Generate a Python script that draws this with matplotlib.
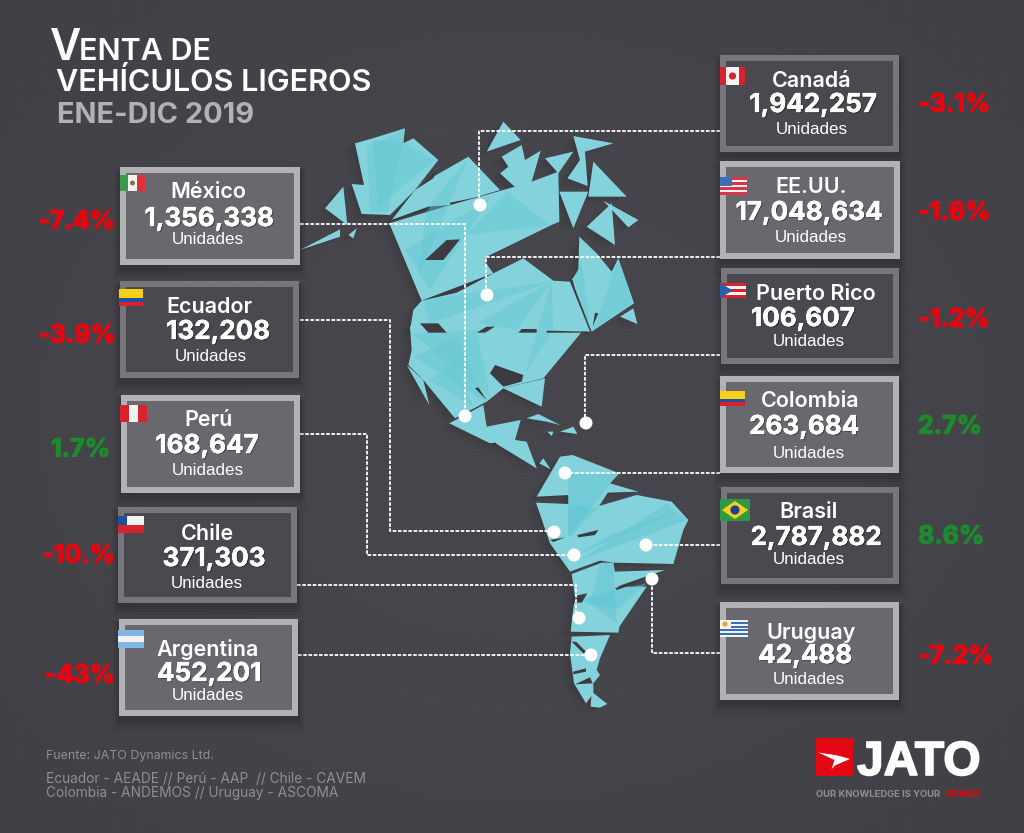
import numpy as np
import matplotlib
matplotlib.use("Agg")
import matplotlib.pyplot as plt
from matplotlib.patches import Polygon, Rectangle, Circle
import matplotlib.patheffects as pe

# donnees
paises = ["México", "Ecuador", "Perú", "Chile", "Argentina",
          "Canadá", "EE.UU.", "Puerto Rico", "Colombia", "Brasil", "Uruguay"]
unidades = ["1,356,338", "132,208", "168,647", "371,303", "452,201",
            "1,942,257", "17,048,634", "106,607", "263,684", "2,787,882", "42,488"]
cambio = ["-7.4%", "-3.9%", "1.7%", "-10.%", "-43%",
          "-3.1%", "-1.6%", "-1.2%", "2.7%", "8.6%", "-7.2%"]
positivo = [False, False, True, False, False, False, False, False, True, True, False]

# mise en page : x0, y0, x1, y1, cadre clair ?
cajas = [(120, 167, 300, 265, True), (120, 281, 299, 378, False), (121, 395, 300, 493, True),
         (118, 507, 297, 603, False), (119, 619, 298, 716, True), (720, 55, 899, 152, False),
         (720, 161, 900, 259, True), (721, 268, 899, 364, False), (720, 376, 899, 473, True),
         (721, 487, 899, 584, False), (720, 602, 899, 700, True)]
pos_nombre = [(208, 192), (209, 307), (209, 420), (207, 534), (208, 649),
              (812, 81), (811, 187), (816, 294), (810, 401), (809, 512), (811, 633)]
pos_valor = [(209, 219), (218, 332), (207, 446), (214, 559), (209, 674),
             (813, 105), (809, 213), (803, 319), (804, 427), (816, 538), (805, 656)]
pos_unid = [(208, 239), (211, 356), (208, 470), (207, 583), (208, 696),
            (812, 129), (811, 237), (809, 341), (809, 453), (809, 560), (809, 679)]
pos_pct = [(115, 222), (116, 336), (110, 450), (115, 556), (115, 676),
           (918, 105), (918, 213), (918, 320), (918, 427), (918, 537), (918, 657)]

conectores = [
    [(300, 224), (465, 224), (465, 416)],
    [(300, 320), (390, 320), (390, 531), (554, 531)],
    [(300, 434), (367, 434), (367, 555), (574, 555)],
    [(297, 585), (576, 585), (576, 618)],
    [(298, 655), (591, 655)],
    [(720, 131), (479, 131), (479, 205)],
    [(720, 257), (486, 257), (486, 295)],
    [(720, 355), (585, 355), (585, 423)],
    [(720, 473), (565, 473)],
    [(720, 545), (646, 545)],
    [(720, 653), (652, 653), (652, 579)],
]
puntos = [(465, 416), (554, 532), (574, 555), (579, 618), (591, 655),
          (480, 205), (487, 295), (586, 423), (565, 473), (646, 545), (652, 579)]

# triangles de la carte, coordonnees du zoom x3
norte = [
    [(195, 100), (248, 85), (345, 55), (340, 100), (370, 85), (445, 150), (375, 240), (300, 315), (215, 312), (185, 222), (222, 225)],
    [(105, 295), (160, 230), (172, 345)],
    [(30, 420), (150, 358), (150, 380)],
    [(175, 375), (200, 355), (190, 385)],
    [(375, 240), (445, 170), (430, 200), (535, 140), (630, 240), (480, 285), (415, 290), (305, 330)],
    [(298, 340), (480, 285), (640, 240), (725, 215), (805, 185), (808, 335), (785, 345), (590, 440), (585, 455), (610, 490), (395, 572)],
    [(395, 572), (610, 490), (700, 445), (790, 512), (840, 515), (900, 665), (360, 660), (370, 600)],
    [(868, 380), (920, 430), (965, 485), (985, 445), (1032, 580), (905, 665), (845, 510), (865, 480)],
    [(990, 620), (1030, 595), (1042, 642)],
    [(360, 650), (880, 660), (760, 805), (640, 835), (590, 875), (495, 925), (400, 810), (355, 765), (365, 720)],
    [(350, 765), (400, 810), (418, 885)],
    [(640, 835), (765, 805), (755, 890)],
    [(478, 940), (580, 885), (590, 950), (692, 930), (675, 990), (600, 1000)],
    [(590, 125), (640, 35), (692, 90)],
    [(635, 140), (695, 105), (705, 150), (752, 122), (725, 215), (690, 245), (630, 190), (655, 170)],
    [(765, 145), (850, 125), (805, 190)],
    [(850, 78), (970, 100), (885, 125), (893, 228), (832, 205), (870, 150)],
    [(910, 155), (1010, 260), (895, 260)],
    [(808, 245), (895, 245), (850, 355)],
    [(890, 350), (965, 280), (975, 405)],
    [(940, 272), (1045, 330), (1015, 352)],
    [(710, 925), (745, 912), (810, 945), (770, 935)],
    [(772, 965), (790, 965), (785, 978)],
    [(810, 965), (850, 950), (862, 972)],
]
norte_claro = [
    [(230, 110), (345, 60), (295, 305), (240, 305)],
    [(250, 90), (340, 95), (435, 150), (265, 290)],
    [(535, 145), (385, 500), (410, 295)],
    [(530, 375), (780, 345), (650, 245)],
    [(345, 420), (600, 265), (420, 540)],
    [(400, 568), (785, 515), (420, 640)],
    [(785, 515), (560, 640), (680, 660)],
    [(785, 515), (705, 790), (790, 660)],
    [(875, 450), (900, 655), (850, 510)],
    [(985, 450), (1028, 578), (910, 660)],
    [(365, 670), (560, 660), (600, 860)],
    [(370, 740), (500, 680), (585, 875)],
    [(420, 810), (490, 750), (550, 890)],
]
huecos_norte = [
    [(405, 450), (470, 390), (510, 388), (460, 450)],
    [(395, 572), (610, 490), (500, 548)],
    [(300, 332), (418, 290), (415, 300), (310, 333)],
    [(375, 240), (445, 170), (430, 205)],
    [(480, 285), (560, 262), (480, 278)],
    [(390, 640), (445, 640), (470, 668), (415, 668)],
    [(560, 668), (590, 650), (615, 650), (585, 668)],
    [(685, 668), (695, 657), (740, 657), (740, 668)],
    [(770, 662), (895, 665), (880, 668), (770, 668)],
    [(600, 790), (615, 765), (700, 795), (695, 815), (640, 830)],
    [(555, 835), (565, 832), (590, 870)],
    [(840, 510), (848, 510), (865, 575)],
    [(908, 650), (915, 608), (925, 610)],
]
sur = [
    [(110, 170), (180, 50), (218, 45), (358, 100), (330, 130), (415, 155), (320, 158), (205, 165)],
    [(205, 160), (325, 155), (295, 202), (205, 195)],
    [(108, 188), (205, 192), (290, 200), (410, 165), (515, 185), (565, 240), (550, 270), (520, 372), (340, 368), (300, 362), (210, 395), (150, 310)],
    [(215, 402), (305, 368), (340, 368), (345, 395), (495, 390), (350, 440), (440, 440), (358, 560), (355, 578), (212, 575), (218, 520), (225, 470)],
    [(215, 590), (330, 585), (300, 655), (290, 690), (300, 705), (280, 730), (280, 760), (258, 790), (222, 730), (210, 640)],
    [(275, 755), (322, 792), (300, 803), (272, 800)],
    [(-25, -10), (80, 5), (110, 85), (-10, 12)],
    [(118, 70), (130, 55), (152, 88)],
]
sur_claro = [
    [(205, 100), (355, 100), (205, 290)],
    [(205, 195), (295, 205), (205, 295)],
    [(340, 280), (540, 210), (220, 350)],
    [(240, 360), (560, 240), (500, 190)],
    [(300, 370), (340, 370), (350, 550), (270, 490)],
    [(225, 480), (440, 430), (350, 510)],
]
huecos_sur = [
    [(345, 445), (440, 410), (405, 432), (350, 450)],
    [(215, 470), (262, 460), (245, 488), (215, 488)],
    [(215, 605), (228, 605), (258, 635), (250, 640)],
    [(220, 695), (258, 685), (258, 695), (220, 703)],
    [(225, 733), (270, 712), (278, 730)],
    [(150, 300), (195, 292), (160, 306)],
    [(232, 285), (295, 270), (285, 285), (235, 292)],
]

flechita = [(0.06, 0.38), (0.58, 0.46), (0.92, 0.55), (0.52, 0.72), (0.42, 0.82), (0.5, 0.58)]

# banderas : x0, y0, x1, y1
banderas = [(120, 175, 145, 191), (119, 289, 143, 306), (120, 405, 147, 422), (118, 516, 144, 533),
            (118, 630, 144, 648), (720, 67, 745, 85), (720, 177, 747, 195), (720, 283, 746, 298),
            (720, 391, 745, 406), (720, 499, 750, 521), (720, 620, 748, 637)]

FONDO = "#45454b"
CIAN = "#84d3dc"
CIAN2 = "#62c5d1"
ROJO = "#e8050f"
VERDE = "#1e8a2e"

fig = plt.figure(figsize=(10.24, 8.33), dpi=100, facecolor=FONDO)
ax = fig.add_axes([0, 0, 1, 1])


def pts(px):
    return px * 0.72


# fond raye avec vignettage
yy, xx = np.mgrid[0:833, 0:1024]
vig = 1 - 0.10 * (((xx - 512) / 512.0) ** 2 + ((yy - 416) / 416.0) ** 2) / 2
rayas = 1 + 0.025 * ((yy % 3) == 0) - 0.015 * ((xx % 3) == 0)
fondo = np.stack([70 * vig * rayas, 70 * vig * rayas, 76 * vig * rayas], axis=2) / 255.0
ax.imshow(np.clip(fondo, 0, 1), extent=(0, 1024, 833, 0), aspect="auto", zorder=0)
ax.set_xlim(0, 1024)
ax.set_ylim(833, 0)
ax.axis("off")


def convertir(p, ox, oy):
    return [(ox + x / 3.0, oy + y / 3.0) for x, y in p]


def capa(polys, ox, oy, color, alpha=1.0, z=2, dx=0, dy=0):
    for p in polys:
        q = [(x + dx, y + dy) for x, y in convertir(p, ox, oy)]
        ax.add_patch(Polygon(q, closed=True, fc=color, ec="none", alpha=alpha, zorder=z))


# ombre de la carte
for d, a in [(10, 0.07), (6, 0.10), (3, 0.14)]:
    capa(norte, 290, 110, "#2b2b30", a, 1, -d, d * 0.6)
    capa(sur, 500, 440, "#2b2b30", a, 1, -d, d * 0.6)

capa(norte, 290, 110, CIAN, 1, 2)
capa(norte_claro, 290, 110, CIAN2, 0.42, 3)
capa(huecos_norte, 290, 110, "#3b3b41", 1, 4)
capa(sur, 500, 440, CIAN, 1, 2)
capa(sur_claro, 500, 440, CIAN2, 0.5, 3)
capa(huecos_sur, 500, 440, "#3b3b41", 1, 4)

# connecteurs
for c in conectores:
    xs, ys = zip(*c)
    ax.plot(xs, ys, color="white", lw=1.3, dashes=(2.0, 0.9), zorder=5)
for x, y in puntos:
    ax.add_patch(Circle((x, y), 6.5, fc="white", ec="none", zorder=6))

# boites
for i, (x0, y0, x1, y1, claro) in enumerate(cajas):
    for d, a in [(14, 0.03), (10, 0.04), (6, 0.05), (3, 0.07)]:
        ax.add_patch(Rectangle((x0 - d * 0.5, y0 + 4 - d * 0.2), x1 - x0 + d, y1 - y0 + d, fc="black", ec="none", alpha=a, zorder=6))
    borde = "#b2b2b4" if claro else "#77777b"
    relleno = "#68686e" if claro else "#49494f"
    ax.add_patch(Rectangle((x0, y0), x1 - x0, y1 - y0, fc=borde, ec="none", zorder=7))
    ax.add_patch(Rectangle((x0 + 6, y0 + 6), x1 - x0 - 12, y1 - y0 - 12, fc=relleno, ec="none", zorder=8))

    sombra = [pe.withSimplePatchShadow(offset=(0.8, -0.8), shadow_rgbFace="black", alpha=0.4),
              pe.withStroke(linewidth=0.3, foreground="white")]
    ax.text(pos_nombre[i][0], pos_nombre[i][1], paises[i], color="white", fontsize=pts(21.5), family="Inter",
            fontweight="semibold", ha="center", va="center", zorder=9)
    ax.text(pos_valor[i][0], pos_valor[i][1], unidades[i], color="white", fontsize=pts(26), family="Inter",
            fontweight="bold", ha="center", va="center", zorder=9, path_effects=sombra)
    ax.text(pos_unid[i][0], pos_unid[i][1], "Unidades", color="white", fontsize=pts(17), family="Liberation Sans",
            ha="center", va="center", zorder=9)
    izq = x0 < 500
    col = VERDE if positivo[i] else ROJO
    ax.text(pos_pct[i][0], pos_pct[i][1], cambio[i], color=col, fontsize=pts(25),
            family="Inter", fontweight="bold", ha="right" if izq else "left", va="center", zorder=9,
            path_effects=[pe.withStroke(linewidth=0.9, foreground=col)])


# banderas
def franjas(caja, colores, vertical=False, pesos=None):
    x0, y0, x1, y1 = caja
    pesos = pesos or [1] * len(colores)
    t = float(sum(pesos))
    pos = 0
    for c, w in zip(colores, pesos):
        if vertical:
            ax.add_patch(Rectangle((x0 + (x1 - x0) * pos / t, y0), (x1 - x0) * w / t, y1 - y0, fc=c, ec="none", zorder=10))
        else:
            ax.add_patch(Rectangle((x0, y0 + (y1 - y0) * pos / t), x1 - x0, (y1 - y0) * w / t, fc=c, ec="none", zorder=10))
        pos += w


franjas(banderas[0], ["#3d9a4a", "#f2f2f2", "#e0303a"], True)
b = banderas[0]
ax.add_patch(Circle(((b[0] + b[2]) / 2, (b[1] + b[3]) / 2), 2.4, fc="#8a6a3a", ec="none", zorder=11))
franjas(banderas[1], ["#f7d117", "#1f4fa0", "#d8232f"], False, [2, 1, 1])
franjas(banderas[2], ["#d8232f", "#f2f2f2", "#d8232f"], True)
franjas(banderas[3], ["#f2f2f2", "#d8232f"])
b = banderas[3]
ax.add_patch(Rectangle((b[0], b[1]), 9, (b[3] - b[1]) / 2, fc="#1f4fa0", ec="none", zorder=11))
franjas(banderas[4], ["#7fb8e6", "#f2f2f2", "#7fb8e6"])
franjas(banderas[5], ["#d8232f", "#f2f2f2", "#d8232f"], True, [1, 2, 1])
b = banderas[5]
ax.add_patch(Circle(((b[0] + b[2]) / 2, (b[1] + b[3]) / 2), 3.6, fc="#d8232f", ec="none", zorder=11))
franjas(banderas[6], ["#d8344a", "#f2f2f2"] * 3 + ["#d8344a"])
b = banderas[6]
ax.add_patch(Rectangle((b[0], b[1]), 12, 9, fc="#3c6fb4", ec="none", zorder=11))
franjas(banderas[7], ["#d8232f", "#f2f2f2", "#d8232f", "#f2f2f2", "#d8232f"])
b = banderas[7]
ax.add_patch(Polygon([(b[0], b[1]), (b[0] + 13, (b[1] + b[3]) / 2), (b[0], b[3])], fc="#2a5fb0", ec="none", zorder=11))
franjas(banderas[8], ["#f7d117", "#1f4fa0", "#d8232f"], False, [2, 1, 1])
franjas(banderas[9], ["#2f9a45"])
b = banderas[9]
cx, cy = (b[0] + b[2]) / 2, (b[1] + b[3]) / 2
ax.add_patch(Polygon([(b[0] + 2, cy), (cx, b[1] + 2), (b[2] - 2, cy), (cx, b[3] - 2)], fc="#f7d117", ec="none", zorder=11))
ax.add_patch(Circle((cx, cy), 4.6, fc="#1f3f8f", ec="none", zorder=12))
franjas(banderas[10], ["#f2f2f2", "#3a6fb8"] * 4 + ["#f2f2f2"])
b = banderas[10]
ax.add_patch(Rectangle((b[0], b[1]), 11, 9, fc="#f2f2f2", ec="none", zorder=11))
ax.add_patch(Circle((b[0] + 5, b[1] + 4), 2.6, fc="#e8a820", ec="none", zorder=12))

# titre
ax.text(50, 60, "V", color="white", fontsize=pts(43), family="Inter", fontweight="semibold", ha="left", va="baseline", zorder=9)
ax.text(79, 60, "ENTA DE", color="white", fontsize=pts(30.5), family="Inter", fontweight="semibold", ha="left", va="baseline", zorder=9)
ax.text(56, 91, "VEHÍCULOS LIGEROS", color="white", fontsize=pts(30.6), family="Inter", fontweight="semibold", ha="left", va="baseline", zorder=9)
ax.text(57, 123, "ENE-DIC 2019", color="#b2b2b4", fontsize=pts(29), family="Inter", fontweight="bold", ha="left", va="baseline", zorder=9)

# sources
gris = "#8f8f93"
ax.text(46, 759, "Fuente: JATO Dynamics Ltd.", color=gris, fontsize=pts(12.4), family="Inter", va="baseline")
ax.text(46, 783, "Ecuador - AEADE // Perú - AAP  // Chile - CAVEM", color=gris, fontsize=pts(13.7), family="Inter", va="baseline")
ax.text(46, 797, "Colombia - ANDEMOS // Uruguay - ASCOMA", color=gris, fontsize=pts(13.7), family="Inter", va="baseline")

# logo
ax.add_patch(Rectangle((816, 738), 37, 38, fc="#e30613", ec="none", zorder=9))
ax.add_patch(Polygon([(816 + 37 * x, 738 + 38 * y) for x, y in flechita], fc="white", ec="none", zorder=10))
ax.text(857, 775, "JATO", color="white", fontsize=pts(48), family="Liberation Sans", fontweight="bold", va="baseline", zorder=9,
        path_effects=[pe.withStroke(linewidth=1.2, foreground="white")])
ax.text(816, 797, "OUR KNOWLEDGE IS YOUR", color="#8f8f93", fontsize=pts(9.4), family="Inter", fontweight="bold", va="baseline")
ax.text(945, 797, "POWER", color=ROJO, fontsize=pts(9.4), family="Inter", fontweight="bold", va="baseline")

fig.savefig("out.png", dpi=100, facecolor=FONDO)
